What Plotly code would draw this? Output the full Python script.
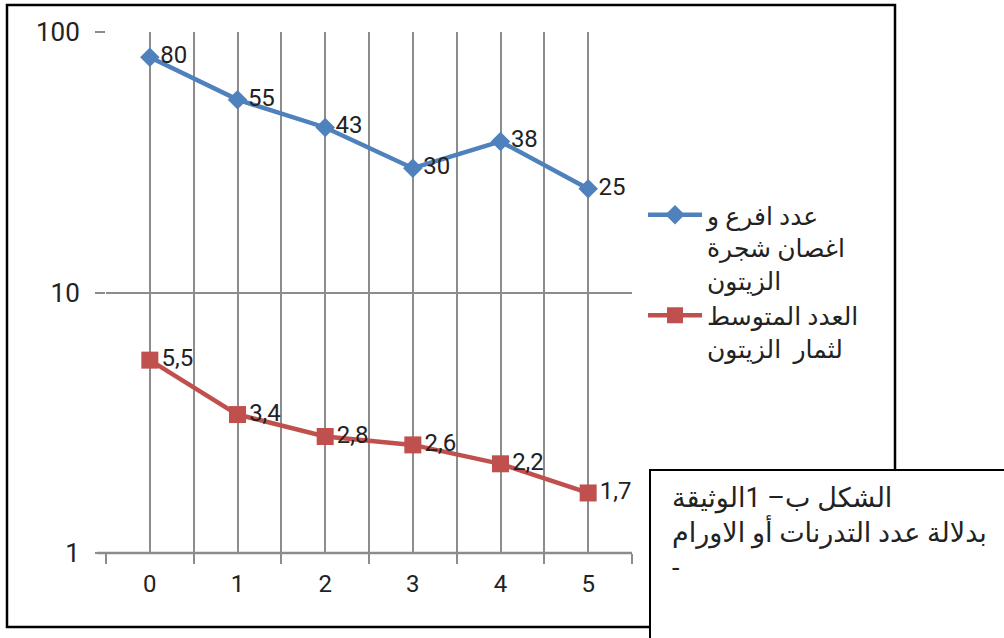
import plotly.graph_objects as go

# ---- data ----
categories = [0, 1, 2, 3, 4, 5]
branches = [80, 55, 43, 30, 38, 25]
fruits = [5.5, 3.4, 2.8, 2.6, 2.2, 1.7]
branch_labels = ["80", "55", "43", "30", "38", "25"]
fruit_labels = ["5,5", "3,4", "2,8", "2,6", "2,2", "1,7"]
series_names = ["عدد افرع و<br>اغصان شجرة<br>الزيتون", "العدد المتوسط<br>لثمار  الزيتون"]
y_ticks = [1, 10, 100]
y_tick_text = ["1", "10", "100"]
caption = "الشكل ب– 1الوثيقة<br>بدلالة عدد التدرنات أو الاورام<br>-"

W, H = 1004, 638
L, R, T, B = 106, 632, 32, 553

def px(x):
    return (x - L) / (R - L)

def py(y):
    return (B - y) / (B - T)

FONT = "Roboto, 'DejaVu Sans', sans-serif"
TXT = "#222222"
GRID = "#8c8c8c"

fig = go.Figure()
fig.add_trace(go.Scatter(
    x=categories, y=branches, name=series_names[0],
    mode="lines+markers+text", text=branch_labels, textposition="middle right",
    textfont=dict(size=24, color=TXT, family=FONT),
    line=dict(color="#4F81BD", width=4.5),
    marker=dict(symbol="diamond", size=15, color="#4F81BD"),
    cliponaxis=False,
))
fig.add_trace(go.Scatter(
    x=categories, y=fruits, name=series_names[1],
    mode="lines+markers+text", text=fruit_labels, textposition="middle right",
    textfont=dict(size=24, color=TXT, family=FONT),
    line=dict(color="#C0504D", width=4.5),
    marker=dict(symbol="square", size=17, color="#C0504D"),
    cliponaxis=False,
))

fig.update_layout(
    width=W, height=H,
    margin=dict(l=L, r=W - R, t=T, b=H - B),
    paper_bgcolor="white", plot_bgcolor="white",
    font=dict(family=FONT, color=TXT, size=22),
    showlegend=True,
    legend=dict(
        x=px(643), y=py(192), xanchor="left", yanchor="top",
        font=dict(size=25, family=FONT, color=TXT),
        valign="top", tracegroupgap=21, bgcolor="rgba(0,0,0,0)",
        itemwidth=54,
    ),
    xaxis=dict(
        range=[-0.5, 5.5], tickvals=categories, ticktext=[str(c) for c in categories],
        showgrid=True, gridcolor=GRID, gridwidth=1.5,
        ticks="", tickfont=dict(size=24, color=TXT),
        showline=False, zeroline=False,
        minor=dict(tickvals=[-0.5, 0.5, 1.5, 2.5, 3.5, 4.5, 5.5], showgrid=True,
                   gridcolor=GRID, gridwidth=1.5, ticks="outside", ticklen=10,
                   tickcolor=GRID, tickwidth=1.5),
        ticklabelstandoff=14,
    ),
    yaxis=dict(
        type="log", range=[0, 2], tickvals=y_ticks, ticktext=y_tick_text,
        showgrid=True, gridcolor=GRID, gridwidth=1.5,
        ticks="outside", ticklen=10, tickcolor=GRID, tickwidth=1.5,
        tickfont=dict(size=26, color=TXT), showline=False, zeroline=False,
        ticklabelstandoff=10,
    ),
    shapes=[
        # x axis line
        dict(type="line", xref="paper", yref="paper", x0=px(97), x1=1, y0=0, y1=0,
             line=dict(color=GRID, width=2.5), layer="above"),
        # outer chart border
        dict(type="rect", xref="paper", yref="paper",
             x0=px(7), x1=px(895), y0=py(627), y1=py(5),
             line=dict(color="black", width=2.5), fillcolor="rgba(0,0,0,0)", layer="above"),
        # caption box
        dict(type="rect", xref="paper", yref="paper",
             x0=px(650), x1=px(1015), y0=py(650), y1=py(470),
             line=dict(color="black", width=2), fillcolor="white", layer="above"),
    ],
    annotations=[
        dict(text=caption, xref="paper", yref="paper", x=px(670), y=py(480),
             xanchor="left", yanchor="top", align="left", showarrow=False,
             font=dict(size=27, family=FONT, color=TXT)),
    ],
)

fig.write_html("out.html", config={"displayModeBar": False},
               post_script="document.body.style.margin='0';document.body.style.padding='0';")
